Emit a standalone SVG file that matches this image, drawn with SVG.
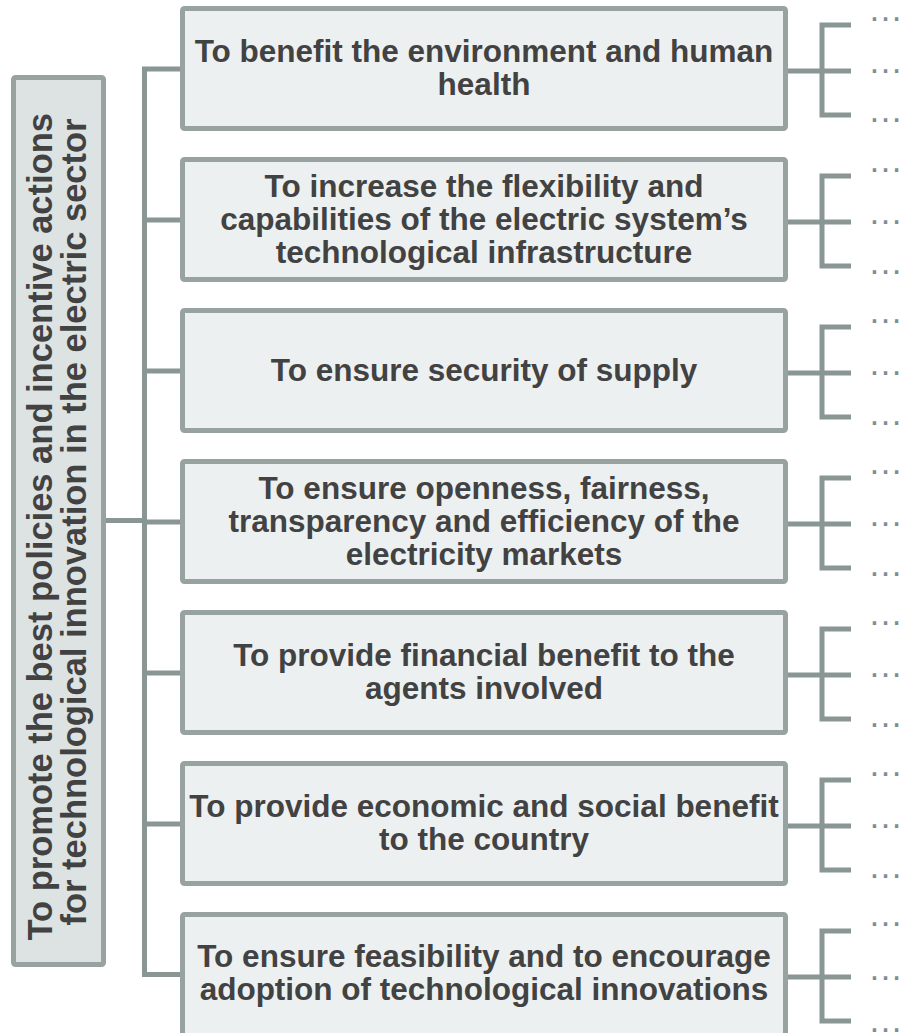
<svg xmlns="http://www.w3.org/2000/svg" width="904" height="1033" viewBox="0 0 904 1033">
  <style>
    .root { fill: #dde2e2; stroke: #98a3a1; stroke-width: 5; }
    .box { fill: #edf0f0; stroke: #98a3a1; stroke-width: 5; }
    .label { font-family: "Liberation Sans", Arial, sans-serif; font-weight: bold; font-size: 31.5px; fill: #424242; text-anchor: middle; }
    .root-label { font-family: "Liberation Sans", Arial, sans-serif; font-weight: bold; font-size: 34.5px; fill: #424242; text-anchor: middle; }
    .wire { fill: none; stroke: #8a9694; stroke-width: 5; stroke-linejoin: miter; }
    .dots { font-family: "Liberation Sans", Arial, sans-serif; font-size: 35px; fill: #7f8e8d; }
  </style>
  <rect width="904" height="1033" fill="#ffffff"/>

  <!-- connectors -->
  <g id="connectors">
    <!-- root to the spine -->
    <path class="wire" d="M106 520.5 H145"/>
    <!-- spine and branches to each objective -->
    <path class="wire" d="M181 69 H144.5 V974.5 H181"/>
    <path class="wire" d="M144.5 220 H181"/>
    <path class="wire" d="M144.5 371 H181"/>
    <path class="wire" d="M144.5 522 H181"/>
    <path class="wire" d="M144.5 673 H181"/>
    <path class="wire" d="M144.5 824 H181"/>
    <!-- brackets on the right -->
    <g id="brackets">
      <path class="wire" d="M851 25 H822 V115 H851 M788 71 H851"/>
      <path class="wire" d="M851 176 H822 V266 H851 M788 222 H851"/>
      <path class="wire" d="M851 327 H822 V417 H851 M788 373 H851"/>
      <path class="wire" d="M851 478 H822 V568 H851 M788 524 H851"/>
      <path class="wire" d="M851 629 H822 V719 H851 M788 675 H851"/>
      <path class="wire" d="M851 780 H822 V870 H851 M788 826 H851"/>
      <path class="wire" d="M851 931 H822 V1021 H851 M788 977 H851"/>
    </g>
  </g>

  <!-- root goal -->
  <g id="root">
    <rect class="root" x="13.5" y="77.5" width="90" height="887" rx="2"/>
    <text class="root-label" transform="translate(0,522) rotate(-90)">
      <tspan x="0" y="52">To promote the best policies and incentive actions</tspan>
      <tspan x="0" y="86">for technological innovation in the electric sector</tspan>
    </text>
  </g>

  <!-- objectives -->
  <g id="obj1">
    <rect class="box" x="182.5" y="8.5" width="603" height="120" rx="2"/>
    <text class="label"><tspan x="484" y="62">To benefit the environment and human</tspan><tspan x="484" y="95.2">health</tspan></text>
  </g>
  <g id="obj2">
    <rect class="box" x="182.5" y="159.5" width="603" height="120" rx="2"/>
    <text class="label"><tspan x="484" y="196.6">To increase the flexibility and</tspan><tspan x="484" y="229.8">capabilities of the electric system’s</tspan><tspan x="484" y="263">technological infrastructure</tspan></text>
  </g>
  <g id="obj3">
    <rect class="box" x="182.5" y="310.5" width="603" height="120" rx="2"/>
    <text class="label"><tspan x="484" y="381">To ensure security of supply</tspan></text>
  </g>
  <g id="obj4">
    <rect class="box" x="182.5" y="461.5" width="603" height="120" rx="2"/>
    <text class="label"><tspan x="484" y="498.6">To ensure openness, fairness,</tspan><tspan x="484" y="531.8">transparency and efficiency of the</tspan><tspan x="484" y="565">electricity markets</tspan></text>
  </g>
  <g id="obj5">
    <rect class="box" x="182.5" y="612.5" width="603" height="120" rx="2"/>
    <text class="label"><tspan x="484" y="666">To provide financial benefit to the</tspan><tspan x="484" y="699.2">agents involved</tspan></text>
  </g>
  <g id="obj6">
    <rect class="box" x="182.5" y="763.5" width="603" height="120" rx="2"/>
    <text class="label"><tspan x="484" y="817">To provide economic and social benefit</tspan><tspan x="484" y="850.2">to the country</tspan></text>
  </g>
  <g id="obj7">
    <rect class="box" x="182.5" y="914.5" width="603" height="124" rx="2"/>
    <text class="label"><tspan x="484" y="967">To ensure feasibility and to encourage</tspan><tspan x="484" y="1000.2">adoption of technological innovations</tspan></text>
  </g>

  <!-- open sub-items -->
  <g id="subitems">
    <text class="dots" x="868" y="21">…</text>
    <text class="dots" x="868" y="72.5">…</text>
    <text class="dots" x="868" y="122">…</text>
    <text class="dots" x="868" y="172">…</text>
    <text class="dots" x="868" y="223.5">…</text>
    <text class="dots" x="868" y="274">…</text>
    <text class="dots" x="868" y="323">…</text>
    <text class="dots" x="868" y="374.5">…</text>
    <text class="dots" x="868" y="425">…</text>
    <text class="dots" x="868" y="474">…</text>
    <text class="dots" x="868" y="525.5">…</text>
    <text class="dots" x="868" y="576">…</text>
    <text class="dots" x="868" y="625">…</text>
    <text class="dots" x="868" y="676.5">…</text>
    <text class="dots" x="868" y="727">…</text>
    <text class="dots" x="868" y="776">…</text>
    <text class="dots" x="868" y="827.5">…</text>
    <text class="dots" x="868" y="878">…</text>
    <text class="dots" x="868" y="926">…</text>
    <text class="dots" x="868" y="979.5">…</text>
    <text class="dots" x="868" y="1031.5">…</text>
  </g>
</svg>
